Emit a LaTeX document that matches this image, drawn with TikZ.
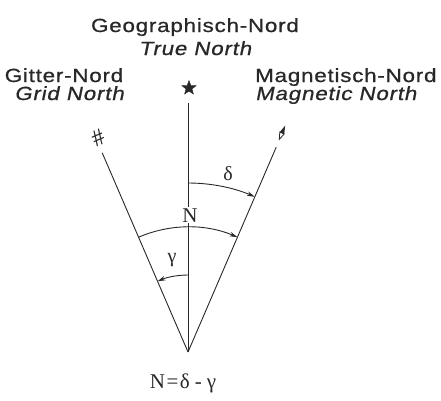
\documentclass[tikz,border=0pt]{standalone}
\usepackage{fontspec}
\setmainfont{Liberation Serif}
\newfontfamily\labfont[FakeStretch=1.18,LetterSpace=4,FakeBold=0.8]{Liberation Sans}
\newfontfamily\labitfont[FakeStretch=1.18,LetterSpace=4,FakeSlant=0.2,FakeBold=0.8]{Liberation Sans}
\usetikzlibrary{arrows.meta,shapes.geometric}
\definecolor{ink}{RGB}{40,40,40}
\tikzset{
  lab/.style={font=\labfont\fontsize{19}{22}\selectfont, text=ink, inner sep=0pt},
  labit/.style={font=\labitfont\fontsize{19}{22}\selectfont, text=ink, inner sep=0pt},
  ser/.style={font=\fontsize{21}{24}\selectfont, text=ink, inner sep=1pt},
  greek/.style={font=\fontsize{20}{22}\selectfont, text=ink, inner sep=0pt},
  ray/.style={draw=ink, line width=0.9pt},
  arr/.style={draw=ink, line width=0.9pt, -{Stealth[length=8pt,width=4.5pt]}},
}
\begin{document}
\begin{tikzpicture}[x=1pt,y=-1pt]
\useasboundingbox (0,0) rectangle (441,400);
% apex and ray ends
\coordinate (O) at (188,352);
\coordinate (Ttop) at (188,103);
\coordinate (Gtop) at ([shift={(-113.3:217)}]O);
\coordinate (Mtop) at ([shift={(-66.7:223)}]O);
% symbols
\node[star, star points=5, star point ratio=2.4, fill=ink, draw=ink, minimum size=15pt, inner sep=0pt] (star) at (189,88) {};
\node[font=\fontsize{24}{24}\selectfont, text=ink, rotate=23.3, inner sep=0pt] (grid) at (98,138) {\#};
% rays
\draw[ray] (O) -- (Ttop);
\draw[ray] (O) -- (Gtop);
\draw[ray] (O) -- (Mtop);
% needle
\begin{scope}[shift={(282,133)}, rotate=-23.3]
  \coordinate (needle) at (0,0);
  \fill[ink] (0,-8) -- (2.4,0) -- (-2.4,0) -- cycle;
  \draw[ink, line width=0.8pt] (2.4,0) -- (0,7) -- (-2.4,0) -- cycle;
\end{scope}
% arcs
\draw[arr] ([shift={(-90:169)}]O) arc[start angle=-90, end angle=-66.7, radius=169];
\draw[arr] ([shift={(-113.3:125)}]O) arc[start angle=-113.3, end angle=-66.7, radius=125];
\draw[arr] ([shift={(-90:77)}]O) arc[start angle=-90, end angle=-113.3, radius=77];
% angle labels
\node[ser, fill=white, anchor=base] (N) at (190,222) {N};
\node[greek] (delta) at (228,174) {δ};
\node[greek] (gamma) at (172,260) {γ};
\node[ser, anchor=base] (formula) at (183,388) {N\kern1.5pt=\kern1.5ptδ\kern5pt-\kern5ptγ};
% titles
\node[lab, anchor=base] (geo) at (195,32) {Geographisch-Nord};
\node[labit, anchor=base] (true) at (195,55) {True North};
\node[lab, anchor=base] (git) at (64,82) {Gitter-Nord};
\node[labit, anchor=base] (grn) at (69,100) {Grid North};
\node[lab, anchor=base west] (mag) at (255,82) {Magnetisch-Nord};
\node[labit, anchor=base west] (magn) at (255,100) {Magnetic North};
\end{tikzpicture}
\end{document}
